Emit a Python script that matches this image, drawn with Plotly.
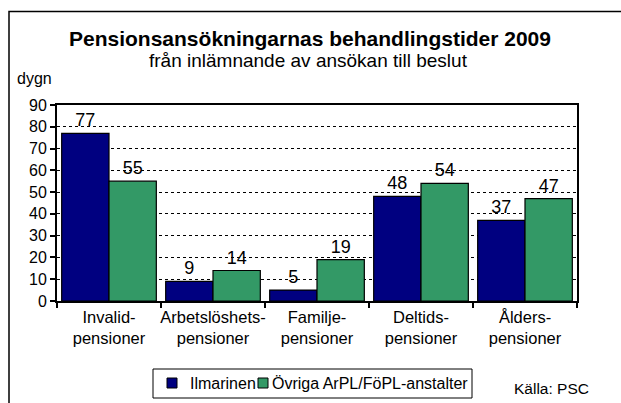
import plotly.graph_objects as go

categories = ["Invalid-<br>pensioner", "Arbetslöshets-<br>pensioner", "Familje-<br>pensioner",
              "Deltids-<br>pensioner", "Ålders-<br>pensioner"]
series_names = ["Ilmarinen", "Övriga ArPL/FöPL-anstalter"]
ilmarinen = [77, 9, 5, 48, 37]
ovriga = [55, 14, 19, 54, 47]
y_ticks = [0, 10, 20, 30, 40, 50, 60, 70, 80, 90]
colors = ["#000080", "#339966"]

W, H = 621, 403
L, R, T, B = 57, 577, 105, 301

def px(x):
    return (x - L) / (R - L)

def py(y):
    return (B - y) / (B - T)

FONT = "Liberation Sans, Arial, sans-serif"

fig = go.Figure()
for name, vals, col in zip(series_names, [ilmarinen, ovriga], colors):
    fig.add_trace(go.Bar(name=name, x=categories, y=vals, text=vals,
                         textposition="outside", marker=dict(color=col, line=dict(color="black", width=1.2)),
                         textfont=dict(size=18, color="black", family=FONT), cliponaxis=False,
                         showlegend=False))

fig.update_layout(
    width=W, height=H,
    margin=dict(l=L, r=W - R, t=T, b=H - B, autoexpand=False),
    paper_bgcolor="white", plot_bgcolor="white",
    barmode="group", bargap=0.09, bargroupgap=0,
    font=dict(family=FONT, color="black"),
    xaxis=dict(showline=True, linecolor="black", linewidth=2, mirror=True, automargin=False,
               ticks="outside", ticklen=5, tickcolor="black", tickwidth=2, tickangle=0,
               tickson="boundaries", tickfont=dict(size=16.5)),
    yaxis=dict(range=[0, 90], tickvals=y_ticks, showline=True, linecolor="black", linewidth=2,
               mirror=True, automargin=False, ticks="outside", ticklen=5, tickcolor="black", tickwidth=2,
               showgrid=True, gridcolor="black", griddash="dot", gridwidth=1,
               tickfont=dict(size=16), zeroline=False),
)
fig.update_yaxes(tickprefix="<b>", ticksuffix="</b>")

fig.add_annotation(text="<b>Pensionsansökningarnas behandlingstider 2009</b>", x=px(310), y=py(38),
                   xref="paper", yref="paper", showarrow=False, font=dict(size=21),
                   xanchor="center", yanchor="middle")
fig.add_annotation(text="från inlämnande av ansökan till beslut", x=px(308), y=py(60),
                   xref="paper", yref="paper", showarrow=False, font=dict(size=19),
                   xanchor="center", yanchor="middle")
fig.add_annotation(text="dygn", x=px(15), y=py(78), xref="paper", yref="paper", showarrow=False,
                   font=dict(size=16), xanchor="left", yanchor="middle")
fig.add_annotation(text="Källa: PSC", x=px(551), y=py(388), xref="paper", yref="paper",
                   showarrow=False, font=dict(size=15.5), xanchor="center", yanchor="middle")

# outer frame
fig.add_shape(type="rect", xref="paper", yref="paper", x0=px(9), y0=py(440), x1=px(660), y1=py(11.5),
              line=dict(color="black", width=1.5), fillcolor="rgba(0,0,0,0)", layer="below")

# legend (manual, to match compact layout)
fig.add_shape(type="rect", xref="paper", yref="paper", x0=px(153), y0=py(398), x1=px(472), y1=py(369),
              line=dict(color="black", width=1), fillcolor="white")
legend_sq = [(167, 177), (258, 268)]
legend_txt = [188, 270]
for (sx0, sx1), tx, name, col in zip(legend_sq, legend_txt, series_names, colors):
    fig.add_shape(type="rect", xref="paper", yref="paper", x0=px(sx0), x1=px(sx1),
                  y0=py(388), y1=py(378), line=dict(color="black", width=1), fillcolor=col)
    fig.add_annotation(text=name, x=px(tx), y=py(383), xref="paper", yref="paper",
                       showarrow=False, font=dict(size=16), xanchor="left", yanchor="middle")

fig.write_html("out.html", config={"displayModeBar": False},
               post_script="document.body.style.margin='0';")
